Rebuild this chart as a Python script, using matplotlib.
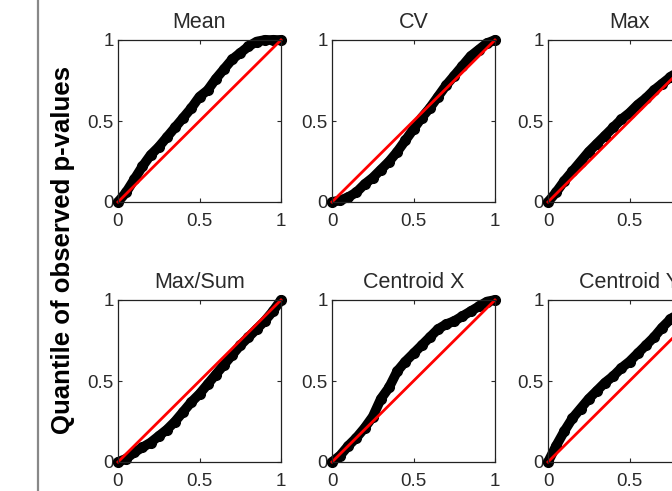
import matplotlib
matplotlib.use('Agg')
import matplotlib.pyplot as plt
from matplotlib.lines import Line2D

plt.rcParams['font.family'] = ['Liberation Sans', 'DejaVu Sans']

titles = ['Mean', 'CV', 'Max', 'Max/Sum', 'Centroid X', 'Centroid Y']

# expected quantiles (x) and observed quantiles (y)
q_mean_x = [0, 0.05, 0.1, 0.15, 0.2, 0.25, 0.3, 0.35, 0.4, 0.45, 0.5, 0.55, 0.6, 0.65, 0.7, 0.75, 0.8, 0.85, 0.9, 0.95, 1.0]
q_mean_y = [0, 0.06, 0.14, 0.22, 0.29, 0.34, 0.40, 0.46, 0.52, 0.58, 0.65, 0.69, 0.76, 0.82, 0.88, 0.92, 0.96, 0.99, 1.0, 1.0, 1.0]

q_cv_x = [0, 0.05, 0.1, 0.15, 0.2, 0.25, 0.3, 0.35, 0.4, 0.45, 0.5, 0.55, 0.6, 0.65, 0.7, 0.75, 0.8, 0.85, 0.9, 0.95, 1.0]
q_cv_y = [0, 0.01, 0.03, 0.06, 0.11, 0.15, 0.20, 0.25, 0.31, 0.38, 0.45, 0.52, 0.58, 0.65, 0.72, 0.78, 0.84, 0.90, 0.94, 0.98, 1.0]

q_max_x = [0, 0.05, 0.1, 0.15, 0.2, 0.25, 0.3, 0.35, 0.4, 0.45, 0.5, 0.55, 0.6, 0.65, 0.7, 0.75, 0.8, 0.85, 0.9, 0.95, 1.0]
q_max_y = [0, 0.06, 0.13, 0.19, 0.25, 0.31, 0.36, 0.41, 0.46, 0.51, 0.55, 0.60, 0.64, 0.69, 0.73, 0.77, 0.81, 0.86, 0.90, 0.95, 1.0]

q_maxsum_x = [0, 0.05, 0.1, 0.15, 0.2, 0.25, 0.3, 0.35, 0.4, 0.45, 0.5, 0.55, 0.6, 0.65, 0.7, 0.75, 0.8, 0.85, 0.9, 0.95, 1.0]
q_maxsum_y = [0, 0.02, 0.06, 0.09, 0.12, 0.16, 0.20, 0.25, 0.31, 0.37, 0.42, 0.48, 0.54, 0.60, 0.66, 0.72, 0.77, 0.82, 0.87, 0.93, 1.0]

q_cx_x = [0, 0.05, 0.1, 0.15, 0.2, 0.25, 0.3, 0.35, 0.4, 0.45, 0.5, 0.55, 0.6, 0.65, 0.7, 0.75, 0.8, 0.85, 0.9, 0.95, 1.0]
q_cx_y = [0, 0.04, 0.10, 0.15, 0.21, 0.28, 0.39, 0.46, 0.56, 0.62, 0.67, 0.72, 0.77, 0.82, 0.85, 0.87, 0.90, 0.93, 0.96, 0.99, 1.0]

q_cy_x = [0, 0.05, 0.1, 0.15, 0.2, 0.25, 0.3, 0.35, 0.4, 0.45, 0.5, 0.55, 0.6, 0.65, 0.7, 0.75, 0.8, 0.85, 0.9, 0.95, 1.0]
q_cy_y = [0, 0.10, 0.19, 0.27, 0.33, 0.39, 0.44, 0.49, 0.53, 0.58, 0.62, 0.67, 0.72, 0.77, 0.83, 0.88, 0.92, 0.95, 0.98, 0.99, 1.0]

curves = [(q_mean_x, q_mean_y), (q_cv_x, q_cv_y), (q_max_x, q_max_y),
          (q_maxsum_x, q_maxsum_y), (q_cx_x, q_cx_y), (q_cy_x, q_cy_y)]

W, H = 672, 491
fig = plt.figure(figsize=(W / 100, H / 100), dpi=100)

col_left = [118, 332, 548]
row_bottom = [202, 462]
aw, ah = 163, 162

for i, (title, (qx, qy)) in enumerate(zip(titles, curves)):
    r, c = divmod(i, 3)
    ax = fig.add_axes([col_left[c] / W, 1 - row_bottom[r] / H, aw / W, ah / H])
    ax.plot(qx, qy, color='black', lw=7, marker='o', ms=7,
            solid_capstyle='round', solid_joinstyle='round', clip_on=False)
    ax.plot([0, 1], [0, 1], color='#ff0000', lw=2, clip_on=False)
    ax.set_xlim(0, 1)
    ax.set_ylim(0, 1)
    ax.set_xticks([0, 0.5, 1])
    ax.set_yticks([0, 0.5, 1])
    ax.set_xticklabels(['0', '0.5', '1'])
    ax.set_yticklabels(['0', '0.5', '1'])
    ax.tick_params(direction='in', length=3, width=0.8, top=True, right=True,
                   labelsize=13.5, colors='#2a2a2a', pad=3)
    ax.tick_params(axis='x', pad=8)
    for s in ax.spines.values():
        s.set_linewidth(0.9)
        s.set_color('#222222')
    ax.set_title(title, fontsize=15.5, color='#2a2a2a', pad=9)

fig.text(63 / W, 1 - 250 / H, 'Quantile of observed p-values', rotation=90,
         fontsize=18.5, fontweight='bold', ha='center', va='center')

fig.add_artist(Line2D([37.5 / W, 37.5 / W], [0, 1], transform=fig.transFigure,
                      color='#888888', lw=1.6))

fig.savefig('out.png', dpi=100)
